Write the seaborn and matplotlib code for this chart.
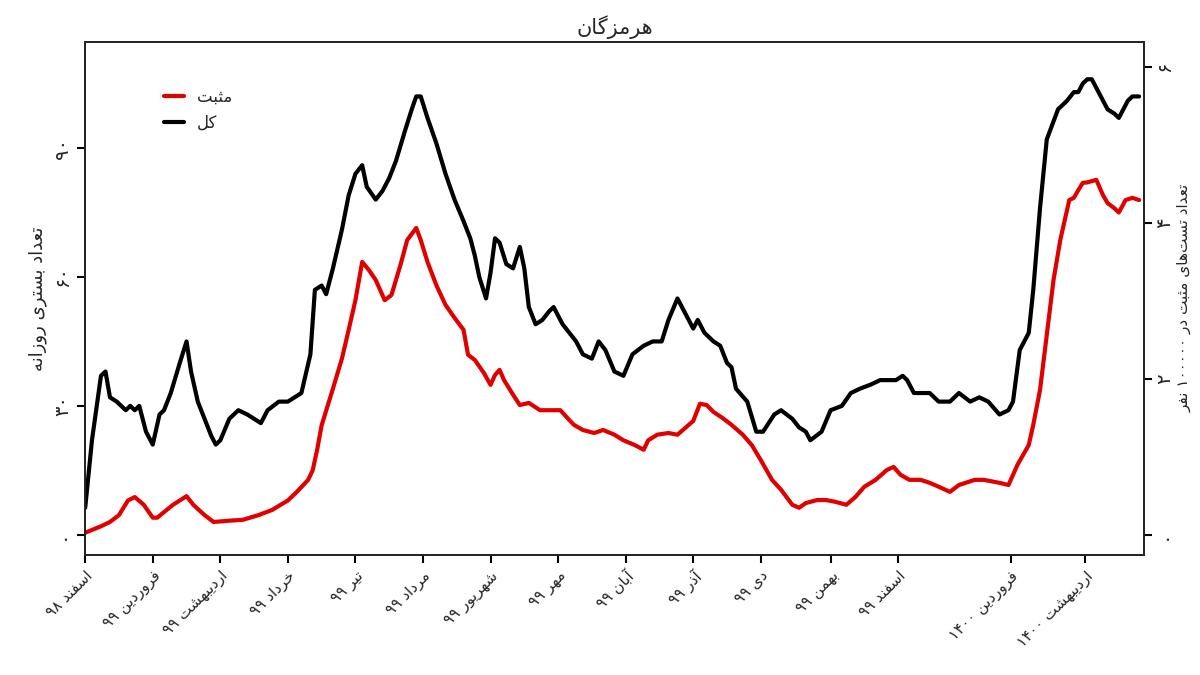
import matplotlib
matplotlib.use("Agg")
import matplotlib.pyplot as plt
import seaborn as sns
import numpy as np
import pandas as pd

# ---------------- data (days from start, values in daily admissions) -------------
black_days = [0,3,7,9,11,14,18,20,22,24,27,30,33,35,38,42,45,47,50,53,56,58,60,64,68,72,78,81,86,90,96,100,102,105,107,110,114,117,120,123,125,129,132,135,138,142,145,147,149,152,156,160,164,168,171,173,175,178,180,182,184,187,190,193,195,197,200,203,206,208,212,215,218,221,225,228,231,235,239,243,248,252,256,259,263,268,270,272,275,279,282,285,287,289,294,298,301,306,309,314,317,320,322,327,331,336,340,344,349,353,360,363,365,368,371,375,379,384,388,393,397,401,406,410,412,415,419,421,424,427,432,436,439,441,443,445,447,450,452,454,457,459,461,463,465,468]
black_vals = [6.3,22,37,38,32,31,29,30,29,30,24,21,28,29,33,40,45,38,31,27,23,21,22,27,29,28,26,29,31,31,33,42,57,58,56,62,71,79,84,86,81,78,80,83,87,94,99,102,102,97,91,84,78,73,69,65,60,55,61,69,68,63,62,67,62,53,49,50,52,53,49,47,45,42,41,45,43,38,37,42,44,45,45,50,55,50,48,50,47,45,44,40,39,34,31,24,24,28,29,27,25,24,22,24,29,30,33,34,35,36,36,37,36,33,33,33,31,31,33,31,32,31,28,29,31,43,47,57,76,92,99,101,103,103,105,106,106,103,101,99,98,97,99,101,102,102]
red_days = [0,7,11,15,19,22,26,30,32,35,39,45,48,53,57,64,70,77,83,90,94,99,101,103,105,110,114,117,120,123,126,129,133,136,138,140,143,147,149,152,156,160,164,168,170,173,177,180,182,184,186,190,193,197,202,206,211,215,217,221,226,230,235,239,244,248,250,254,259,263,270,273,276,279,283,287,292,296,300,305,309,314,317,320,325,329,333,338,342,346,351,356,359,362,366,371,375,379,384,388,395,399,406,410,414,419,421,424,427,430,433,437,439,441,443,445,449,452,454,457,459,462,465,468]
red_vals = [0.5,2,3,4.6,8,8.8,7,4,4,5.3,7,9,7,4.6,3,3.3,3.5,4.6,5.8,8,10,12.8,15,19.8,25.5,34,41,47.7,54.6,63.5,61.6,59.3,54.6,55.8,59.3,62.8,68.6,71.4,68.6,63.5,58,53.5,50.5,47.7,41.9,40.7,37.7,34.9,37.2,38.4,36,32.6,30.2,30.7,29,29,29,26.7,25.6,24.4,23.7,24.4,23.3,22,20.9,19.8,22,23.3,23.7,23.3,26.5,30.5,30.2,28.6,27.2,25.6,23.3,20.9,17.4,12.8,10.5,7,6.3,7.4,8.1,8.1,7.7,7,8.8,11.2,12.8,15.1,15.8,14,12.8,12.8,12.1,11.2,10,11.6,12.8,12.8,12.1,11.6,16.3,20.9,25.6,33.7,46.5,59.3,68.6,77.9,78.4,80.2,81.9,82,82.6,79,77.2,76,75,77.9,78.4,77.9]
tick_days = [0,30,60,90,120,150,180,210,240,270,300,331,361,411,444]
tick_labels = ["اسفند ۹۸","فروردین ۹۹","اردیبهشت ۹۹","خرداد ۹۹","تیر ۹۹","مرداد ۹۹","شهریور ۹۹","مهر ۹۹","آبان ۹۹","آذر ۹۹","دی ۹۹","بهمن ۹۹","اسفند ۹۹","فروردین ۱۴۰۰","اردیبهشت ۱۴۰۰"]
left_ticks = [0,30,60,90]
left_tick_labels = ["۰","۳۰","۶۰","۹۰"]
right_ticks = [0,2,4,6]
right_tick_labels = ["۰","۲","۴","۶"]
title = "هرمزگان"
ylabel_left = "تعداد بستری روزانه"
ylabel_right = "تعداد تست‌های مثبت در ۱۰۰۰۰۰ نفر"
legend_labels = ["مثبت","کل"]

# ---------------- minimal Persian shaping ----------------
F = {
 'ا':(0xFE8D,0xFE8E,None,None),'آ':(0xFE81,0xFE82,None,None),
 'ب':(0xFE8F,0xFE90,0xFE91,0xFE92),'پ':(0xFB56,0xFB57,0xFB58,0xFB59),
 'ت':(0xFE95,0xFE96,0xFE97,0xFE98),'ث':(0xFE99,0xFE9A,0xFE9B,0xFE9C),
 'ج':(0xFE9D,0xFE9E,0xFE9F,0xFEA0),'چ':(0xFB7A,0xFB7B,0xFB7C,0xFB7D),
 'ح':(0xFEA1,0xFEA2,0xFEA3,0xFEA4),'خ':(0xFEA5,0xFEA6,0xFEA7,0xFEA8),
 'د':(0xFEA9,0xFEAA,None,None),'ذ':(0xFEAB,0xFEAC,None,None),
 'ر':(0xFEAD,0xFEAE,None,None),'ز':(0xFEAF,0xFEB0,None,None),'ژ':(0xFB8A,0xFB8B,None,None),
 'س':(0xFEB1,0xFEB2,0xFEB3,0xFEB4),'ش':(0xFEB5,0xFEB6,0xFEB7,0xFEB8),
 'ص':(0xFEB9,0xFEBA,0xFEBB,0xFEBC),'ض':(0xFEBD,0xFEBE,0xFEBF,0xFEC0),
 'ط':(0xFEC1,0xFEC2,0xFEC3,0xFEC4),'ظ':(0xFEC5,0xFEC6,0xFEC7,0xFEC8),
 'ع':(0xFEC9,0xFECA,0xFECB,0xFECC),'غ':(0xFECD,0xFECE,0xFECF,0xFED0),
 'ف':(0xFED1,0xFED2,0xFED3,0xFED4),'ق':(0xFED5,0xFED6,0xFED7,0xFED8),
 'ک':(0xFB8E,0xFB8F,0xFB90,0xFB91),'گ':(0xFB92,0xFB93,0xFB94,0xFB95),
 'ل':(0xFEDD,0xFEDE,0xFEDF,0xFEE0),'م':(0xFEE1,0xFEE2,0xFEE3,0xFEE4),
 'ن':(0xFEE5,0xFEE6,0xFEE7,0xFEE8),'و':(0xFEED,0xFEEE,None,None),
 'ه':(0xFEE9,0xFEEA,0xFEEB,0xFEEC),'ی':(0xFBFC,0xFBFD,0xFBFE,0xFBFF),
}
def shape_word(w):
    out = []
    for i, ch in enumerate(w):
        if ch not in F:
            out.append(ch); continue
        p = w[i-1] if i > 0 else None
        n = w[i+1] if i + 1 < len(w) else None
        jp = p in F and F[p][2] is not None
        jn = n in F and F[ch][2] is not None
        iso, fin, ini, med = F[ch]
        if jp and jn: c = med
        elif jp: c = fin
        elif jn: c = ini
        else: c = iso
        out.append(chr(c))
    s = "".join(out)
    if any(ch in F for ch in w):
        s = s[::-1]
    return s
def fa(text):
    parts = []
    for word in text.split(" "):
        segs = word.split("\u200c")
        parts.append("".join(shape_word(s) for s in segs[::-1]))
    return " ".join(parts[::-1])

# ---------------- plot ----------------
sns.set_theme(style="white")
plt.rcParams['font.family'] = ['DejaVu Sans']
fig = plt.figure(figsize=(12, 6.75), dpi=100)
ax = fig.add_axes([0.071, 0.178, 0.882, 0.760])
dfb = pd.DataFrame({"day": black_days, "v": black_vals})
dfr = pd.DataFrame({"day": red_days, "v": red_vals})
sns.lineplot(data=dfr, x="day", y="v", ax=ax, color="#e00000", lw=3, label=fa(legend_labels[0]))
sns.lineplot(data=dfb, x="day", y="v", ax=ax, color="black", lw=3, label=fa(legend_labels[1]))
ax.set_xlim(0, 470)
ax.set_ylim(-4.65, 114.7)
ax.set_yticks(left_ticks)
ax.set_yticklabels(left_tick_labels, rotation=90, va="center", fontsize=14)
ax.set_xticks(tick_days)
ax.set_xticklabels([fa(t) for t in tick_labels], rotation=45, ha="right", rotation_mode="anchor", fontsize=11)
ax.set_xlabel("")
ax.set_ylabel(fa(ylabel_left), fontsize=13)
ax.set_title(fa(title), fontsize=15)
ax.tick_params(axis="both", direction="out", length=6, width=1.5, color="black", left=True, bottom=True)
for s in ax.spines.values():
    s.set_color("black"); s.set_linewidth(1.2)
ax2 = ax.twinx()
ax2.set_ylim(-0.256, 6.32)
ax2.set_yticks(right_ticks)
ax2.set_yticklabels(right_tick_labels, rotation=90, va="center", fontsize=14)
ax2.set_ylabel(fa(ylabel_right), fontsize=11, labelpad=2)
ax2.tick_params(axis="y", direction="out", length=6, width=1.5, color="black", right=True, pad=2)
leg = ax.legend(loc="upper left", bbox_to_anchor=(0.06, 0.94), frameon=False, fontsize=12,
                handlelength=1.2, markerfirst=True)
fig.savefig("out.png", dpi=100)
